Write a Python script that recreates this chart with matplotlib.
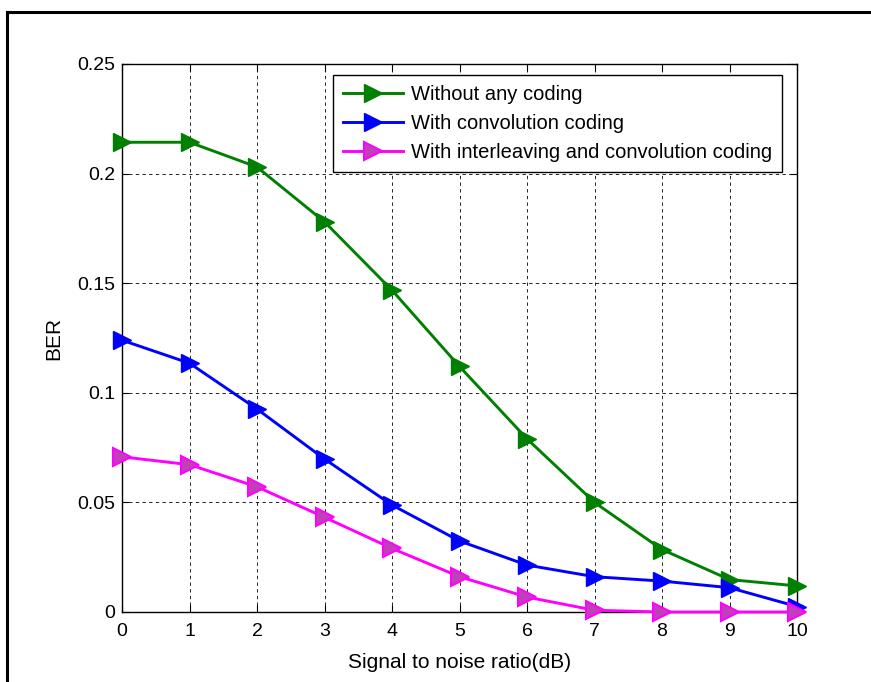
import matplotlib.pyplot as plt
from matplotlib.lines import Line2D

plt.rcParams['font.family'] = ['Liberation Sans', 'DejaVu Sans']

# SNR values (dB)
snr = [0, 1, 2, 3, 4, 5, 6, 7, 8, 9, 10]

# BER curves
ber_uncoded = [0.2143, 0.2143, 0.203, 0.178, 0.1468, 0.112, 0.079, 0.050, 0.0285, 0.0148, 0.0119]
ber_conv = [0.124, 0.1135, 0.0926, 0.0698, 0.0488, 0.0324, 0.0214, 0.0161, 0.0141, 0.0111, 0.0025]
ber_inter = [0.0708, 0.0672, 0.0571, 0.0432, 0.029, 0.0161, 0.0068, 0.0008, 0.0, 0.0, 0.0]

labels = ['Without any coding', 'With convolution coding',
          'With interleaving and convolution coding']

fig = plt.figure(figsize=(8.71, 6.82), dpi=100)
ax = fig.add_axes([122 / 871, 1 - 612 / 682, 675 / 871, 548 / 682])

ax.plot(snr, ber_uncoded, color='#008000', lw=2.1, marker='>', ms=13,
        mfc='#008000', mec='#008000', label=labels[0], clip_on=False, zorder=3)
ax.plot(snr, ber_conv, color='#0000ff', lw=2.1, marker='>', ms=13,
        mfc='#0000ff', mec='#0000ff', label=labels[1], clip_on=False, zorder=3)
ax.plot(snr, ber_inter, color='#ff00ff', lw=2.1, marker='>', ms=13,
        mfc='#c040b8', mec='#ff00ff', mew=1.5, label=labels[2], clip_on=False, zorder=3)

ax.set_xlim(0, 10)
ax.set_ylim(0, 0.25)
ax.set_xticks(range(0, 11))
ax.set_yticks([0, 0.05, 0.1, 0.15, 0.2, 0.25])
ax.set_yticklabels(['0', '0.05', '0.1', '0.15', '0.2', '0.25'])

ax.grid(True, color='black', linestyle=(0, (4, 4)), linewidth=0.6)
ax.tick_params(direction='in', top=True, right=True, length=5, width=0.8,
               labelsize=14, pad=5)
ax.tick_params(axis='x', pad=8)
for s in ax.spines.values():
    s.set_linewidth(1.0)

ax.set_xlabel('Signal to noise ratio(dB)', fontsize=15, labelpad=9)
ax.set_ylabel('BER', fontsize=15, labelpad=10)

leg = ax.legend(loc='upper left', bbox_to_anchor=(211 / 675, 1 - 11 / 548),
                fontsize=14.5, handlelength=3.0, handletextpad=0.35,
                borderpad=0.5, labelspacing=0.5, borderaxespad=0,
                fancybox=False, framealpha=1, edgecolor='black')
leg.get_frame().set_linewidth(1.0)

# figure border (left and top only, as in the original crop)
fig.add_artist(Line2D([7 / 871, 7 / 871], [0, 1 - 12 / 682], color='black', lw=2.2,
                      transform=fig.transFigure))
fig.add_artist(Line2D([7 / 871, 1], [1 - 12 / 682, 1 - 12 / 682], color='black', lw=2.2,
                      transform=fig.transFigure))

fig.savefig('out.png', dpi=100)
